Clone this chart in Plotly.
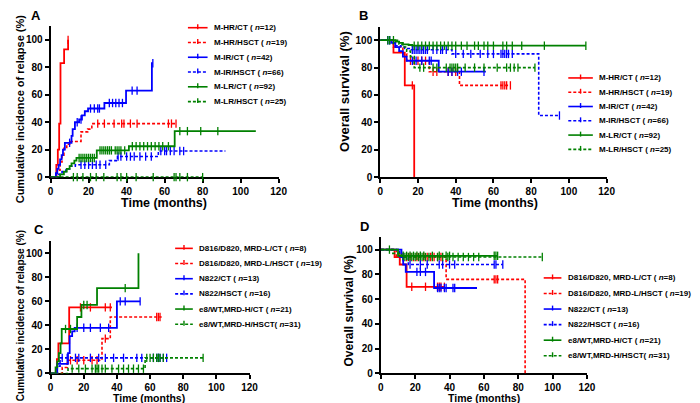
import plotly.graph_objects as go

RED = "#ff0000"
BLUE = "#0000ff"
GREEN = "#008000"

X_TICKS = [0, 20, 40, 60, 80, 100, 120]
Y_TICKS = [0, 20, 40, 60, 80, 100]

# ---------------- Panel A: cumulative incidence of relapse ----------------
A_labels = ["M-HR/CT ( <i>n</i>=12)", "M-HR/HSCT ( <i>n</i>=19)", "M-IR/CT ( <i>n</i>=42)",
            "M-IR/HSCT ( <i>n</i>=66)", "M-LR/CT ( <i>n</i>=92)", "M-LR/HSCT ( <i>n</i>=25)"]
A_hr_ct_t = [0, 3, 3.8, 4.5, 5.2, 7.1, 9.2]
A_hr_ct_v = [0, 9, 20, 39, 83, 93, 100]
A_hr_ct_c = [9.2]
A_hr_hsct_t = [0, 3.5, 5, 6, 7, 8.5, 10, 16, 19.5, 21.7, 66]
A_hr_hsct_v = [0, 5, 11, 16, 21, 24, 26, 33, 35, 39, 39]
A_hr_hsct_c = [24.8, 28.3, 33.4, 37.4, 38.6, 42, 45.5, 62, 63.6, 66]
A_ir_ct_t = [0, 2.8, 3.5, 4.2, 5, 5.8, 6.5, 7.5, 11, 11.6, 12.8, 15, 16.5, 18, 19.7, 28.3, 39.7, 53.3, 53.8]
A_ir_ct_v = [0, 3, 6, 9, 13, 16, 20, 25, 30, 35, 40, 42, 45, 48, 50, 54, 63, 83, 83]
A_ir_ct_c = [10, 14, 16, 21, 23, 24.8, 25.7, 30.9, 32.6, 34.3, 36, 37.8, 42.9, 45.5, 53.8]
A_ir_hsct_t = [0, 4, 6, 8, 10, 13, 30.9, 35.2, 56.7, 92]
A_ir_hsct_v = [0, 2, 4, 6, 8, 9, 12, 15, 19, 19]
A_ir_hsct_c = [16, 18, 20, 22, 24, 26, 29, 35.5, 37, 40, 42, 44, 47, 50, 53, 58, 60, 61, 63, 65, 68, 70]
A_lr_ct_t = [0, 5, 7, 8.5, 10, 11, 12.5, 13.6, 24.3, 41.2, 65.3, 108]
A_lr_ct_v = [0, 2, 4, 6, 8, 10, 12, 14, 19.5, 22.5, 33.5, 33.5]
A_lr_ct_c = [15, 16, 17, 18, 19, 20, 21, 22, 23, 26, 27, 28, 29, 30, 31, 32, 34, 35, 36, 37, 39,
             43, 45, 47, 49, 51, 53, 55, 57, 59, 62, 68, 72, 79, 88]
A_lr_hsct_t = [0, 80]
A_lr_hsct_v = [0, 0]
A_lr_hsct_c = [12, 14, 17, 21, 24, 28, 35, 37, 40, 45, 54, 65, 66, 68, 72, 80]

# ---------------- Panel B: overall survival ----------------
B_labels = A_labels
B_hr_ct_t = [0, 7, 13, 18]
B_hr_ct_v = [100, 91, 67, 0]
B_hr_ct_c = [17]
B_hr_hsct_t = [0, 7, 12, 14, 26, 42, 69]
B_hr_hsct_v = [100, 95, 90, 85, 77, 67, 67]
B_hr_hsct_c = [16, 18, 20, 22, 24, 28, 30, 36, 38, 40, 64, 65, 66, 67, 69]
B_ir_ct_t = [0, 6, 8, 10, 12, 14, 31, 56]
B_ir_ct_v = [100, 98, 95, 92, 88, 85, 77, 77]
B_ir_ct_c = [4, 5, 17, 19, 22, 26, 27, 36, 38, 41, 43, 55]
B_ir_hsct_t = [0, 5, 8, 11, 13, 16, 38, 84, 95]
B_ir_hsct_v = [100, 98, 96, 95, 94, 93, 90, 45, 45]
B_ir_hsct_c = [17, 18, 19, 20, 21, 22, 23, 24, 25, 28, 30, 32, 33, 35,
               40, 44, 48, 53, 57, 60, 64, 65, 66, 67, 68, 70, 95]
B_lr_ct_t = [0, 8, 10, 12, 15, 17, 109]
B_lr_ct_v = [100, 99, 98, 97, 96.5, 96, 96]
B_lr_ct_c = [4, 5, 7, 18, 20, 22, 24, 26, 28, 30, 32, 34, 36, 38, 40, 43, 46, 50, 52, 55, 57, 60,
             65, 67, 70, 75, 87, 109]
B_lr_hsct_t = [0, 10, 12, 14, 16, 18, 82]
B_lr_hsct_v = [100, 97, 95, 92, 88, 80, 80]
B_lr_hsct_c = [21, 23, 28, 30, 35, 37, 38, 39, 40, 41, 45, 50, 55, 62, 67, 69, 71, 73, 82]

# ---------------- Panel C: cumulative incidence of relapse ----------------
C_labels = ["D816/D820, MRD-L/CT ( <i>n</i>=8)", "D816/D820, MRD-L/HSCT ( <i>n</i>=19)",
            "N822/CT ( <i>n</i>=13)", "N822/HSCT ( <i>n</i>=16)",
            "e8/WT,MRD-H/CT ( <i>n</i>=21)", "e8/WT,MRD-H/HSCT( <i>n</i>=31)"]
C_dl_ct_t = [0, 3.8, 4.7, 11.2, 37]
C_dl_ct_v = [0, 12, 25, 55, 55]
C_dl_ct_c = [18, 24, 33, 36]
C_dl_hsct_t = [0, 7, 10, 31, 36, 67]
C_dl_hsct_v = [0, 5, 11, 29, 47, 47]
C_dl_hsct_c = [12, 16, 20, 25, 28, 33, 64, 65, 66]
C_n_ct_t = [0, 4, 10.5, 11.5, 13, 14.5, 40, 54]
C_n_ct_v = [0, 8, 17, 31, 35, 38, 60, 60]
C_n_ct_c = [16, 20, 24, 30, 35, 42, 45, 54]
C_n_hsct_t = [0, 4, 5.7, 70]
C_n_hsct_v = [0, 6, 13, 13]
C_n_hsct_c = [7, 10, 15, 17, 24, 29, 33, 38, 44, 52, 55, 62, 64, 65, 66, 68, 70]
C_e_ct_t = [0, 3, 4, 5, 6, 6.7, 16, 18.6, 28, 53]
C_e_ct_v = [0, 5, 10, 17, 25, 37, 47, 57, 71, 100]
C_e_ct_c = [9, 12, 20, 22, 45]
C_e_hsct_t = [0, 10.5, 57, 92]
C_e_hsct_v = [0, 4, 13, 13]
C_e_hsct_c = [13, 17, 21, 25, 27, 28, 29, 31, 33, 37, 41, 44, 47, 50, 53, 56,
              58, 60, 62, 64, 65, 66, 68, 92]

# ---------------- Panel D: overall survival ----------------
D_labels = C_labels
D_dl_ct_t = [0, 8, 11, 15, 37]
D_dl_ct_v = [100, 94, 88, 70, 70]
D_dl_ct_c = [18, 26, 33, 34, 35, 37]
D_dl_hsct_t = [0, 9, 38, 84]
D_dl_hsct_v = [100, 94, 76, 0]
D_dl_hsct_c = [11, 13, 15, 17, 19, 21, 23, 25, 27, 29, 31, 33, 35, 66, 67, 68]
D_n_ct_t = [0, 12, 13, 14.5, 31, 56]
D_n_ct_v = [100, 94, 88, 82, 69, 69]
D_n_ct_c = [21, 23, 26, 33, 34, 35, 37, 38, 42, 43]
D_n_hsct_t = [0, 11, 16, 71]
D_n_hsct_v = [100, 94, 88, 88]
D_n_hsct_c = [13, 17, 23, 27, 34, 36, 40, 43, 66, 67, 71]
D_e_ct_t = [0, 10, 68]
D_e_ct_v = [100, 95, 95]
D_e_ct_c = [13, 15, 17, 19, 21, 23, 25, 30, 34, 38, 40, 66, 67, 68]
D_e_hsct_t = [0, 7, 12, 94]
D_e_hsct_v = [100, 97, 94, 94]
D_e_hsct_c = [5, 14, 16, 18, 20, 22, 24, 26, 28, 30, 33, 36, 39, 42, 45, 48, 51, 54, 57, 94]

COLORS = [RED, RED, BLUE, BLUE, GREEN, GREEN]
DASHED = [False, True, False, True, False, True]

panels = [
    ("", A_labels, [(A_hr_ct_t, A_hr_ct_v, A_hr_ct_c), (A_hr_hsct_t, A_hr_hsct_v, A_hr_hsct_c),
                    (A_ir_ct_t, A_ir_ct_v, A_ir_ct_c), (A_ir_hsct_t, A_ir_hsct_v, A_ir_hsct_c),
                    (A_lr_ct_t, A_lr_ct_v, A_lr_ct_c), (A_lr_hsct_t, A_lr_hsct_v, A_lr_hsct_c)]),
    ("2", B_labels, [(B_hr_ct_t, B_hr_ct_v, B_hr_ct_c), (B_hr_hsct_t, B_hr_hsct_v, B_hr_hsct_c),
                     (B_ir_ct_t, B_ir_ct_v, B_ir_ct_c), (B_ir_hsct_t, B_ir_hsct_v, B_ir_hsct_c),
                     (B_lr_ct_t, B_lr_ct_v, B_lr_ct_c), (B_lr_hsct_t, B_lr_hsct_v, B_lr_hsct_c)]),
    ("3", C_labels, [(C_dl_ct_t, C_dl_ct_v, C_dl_ct_c), (C_dl_hsct_t, C_dl_hsct_v, C_dl_hsct_c),
                     (C_n_ct_t, C_n_ct_v, C_n_ct_c), (C_n_hsct_t, C_n_hsct_v, C_n_hsct_c),
                     (C_e_ct_t, C_e_ct_v, C_e_ct_c), (C_e_hsct_t, C_e_hsct_v, C_e_hsct_c)]),
    ("4", D_labels, [(D_dl_ct_t, D_dl_ct_v, D_dl_ct_c), (D_dl_hsct_t, D_dl_hsct_v, D_dl_hsct_c),
                     (D_n_ct_t, D_n_ct_v, D_n_ct_c), (D_n_hsct_t, D_n_hsct_v, D_n_hsct_c),
                     (D_e_ct_t, D_e_ct_v, D_e_ct_c), (D_e_hsct_t, D_e_hsct_v, D_e_hsct_c)]),
]

W, H = 700, 403
FONT = "Liberation Sans, Arial, sans-serif"


def px(x):
    return x / W


def py(y):
    return (H - y) / H


def step_at(ts, vs, x):
    val = vs[0]
    for t, v in zip(ts, vs):
        if t <= x:
            val = v
    return val


fig = go.Figure()

for suffix, labels, series in panels:
    xa = "x" + suffix
    ya = "y" + suffix
    for i, (ts, vs, cs) in enumerate(series):
        col = COLORS[i]
        dash = "3px,2px" if DASHED[i] else "solid"
        fig.add_trace(go.Scatter(
            x=ts, y=vs, mode="lines", xaxis=xa, yaxis=ya,
            line=dict(color=col, width=1.6 if DASHED[i] else 1.8, dash=dash, shape="hv"),
            showlegend=False, cliponaxis=False, hoverinfo="skip"))
        fig.add_trace(go.Scatter(
            x=cs, y=[step_at(ts, vs, c) for c in cs], mode="markers", xaxis=xa, yaxis=ya,
            marker=dict(symbol="line-ns", size=6, line=dict(width=1.3, color=col)),
            showlegend=False, cliponaxis=False, hoverinfo="skip"))

# axis domains from pixel geometry
geom = {
    "": dict(x0=40.3, x1=272.3, y0=171.7, y1=18.4),
    "2": dict(x0=375.7, x1=606.0, y0=171.7, y1=18.8),
    "3": dict(x0=40.3, x1=242.7, y0=371.0, y1=236.8),
    "4": dict(x0=376.3, x1=586.0, y0=371.0, y1=232.7),
}

axis_common = dict(showline=True, linecolor="black", linewidth=2, ticks="outside",
                   ticklen=4, tickwidth=2, tickcolor="black", showgrid=False,
                   zeroline=False, fixedrange=True, layer="below traces",
                   tickfont=dict(family=FONT, size=10, color="black", weight="bold"))

layout = dict(width=W, height=H, margin=dict(l=0, r=0, t=0, b=0),
              paper_bgcolor="white", plot_bgcolor="white", autosize=False)
for suffix, g in geom.items():
    layout["xaxis" + suffix] = dict(domain=[px(g["x0"]), px(g["x1"])], range=[0, 120],
                                    tickvals=X_TICKS, anchor="y" + suffix, **axis_common)
    layout["yaxis" + suffix] = dict(domain=[py(g["y0"]), py(g["y1"])], range=[0, 110],
                                    tickvals=Y_TICKS, anchor="x" + suffix, **axis_common)
fig.update_layout(**layout)

annotations = []
shapes = []


def text(x, y, s, size, angle=0, xanchor="center"):
    annotations.append(dict(x=px(x), y=py(y), xref="paper", yref="paper", text=s,
                            showarrow=False, textangle=angle, xanchor=xanchor, yanchor="middle",
                            font=dict(family=FONT, size=size, color="black", weight="bold")))


# panel letters
text(25, 8, "A", 13)
text(359, 8, "B", 13)
text(28, 225, "C", 13)
text(360, 222, "D", 13)

# axis titles
text(156, 198, "Time (months)", 12.5)
text(492, 198, "Time (months)", 12.5)
text(140, 395.5, "Time (months)", 10.5)
text(481, 395.5, "Time (months)", 10.5)
text(10, 102, "Cumulative incidence of relapse (%)", 11, angle=-90)
text(340, 85, "Overall survival (%)", 13, angle=-90)
text(10, 312, "Cumulative incidence of relapse (%)", 10, angle=-90)
text(344, 308, "Overall survival (%)", 12, angle=-90)

# legends drawn as shapes + text
legends = [
    (A_labels, 180, 200, 205, 20, 15.0),
    (B_labels, 567, 592, 596, 71, 14.5),
    (C_labels, 167, 185, 189, 244, 15.4),
    (D_labels, 542, 560, 565, 274, 15.8),
]
for labels, lx0, lx1, tx, ytop, dy in legends:
    for i, lab in enumerate(labels):
        y = ytop + i * dy
        col = COLORS[i]
        shapes.append(dict(type="line", xref="paper", yref="paper",
                           x0=px(lx0), x1=px(lx1), y0=py(y), y1=py(y),
                           line=dict(color=col, width=1.6,
                                     dash="3px,2px" if DASHED[i] else "solid")))
        xm = (lx0 + lx1) / 2
        shapes.append(dict(type="line", xref="paper", yref="paper",
                           x0=px(xm), x1=px(xm), y0=py(y - 3.5), y1=py(y + 1.5),
                           line=dict(color=col, width=1.4)))
        text(tx, y, lab, 8, xanchor="left")

fig.update_layout(annotations=annotations, shapes=shapes)
fig.write_html("out.html")
